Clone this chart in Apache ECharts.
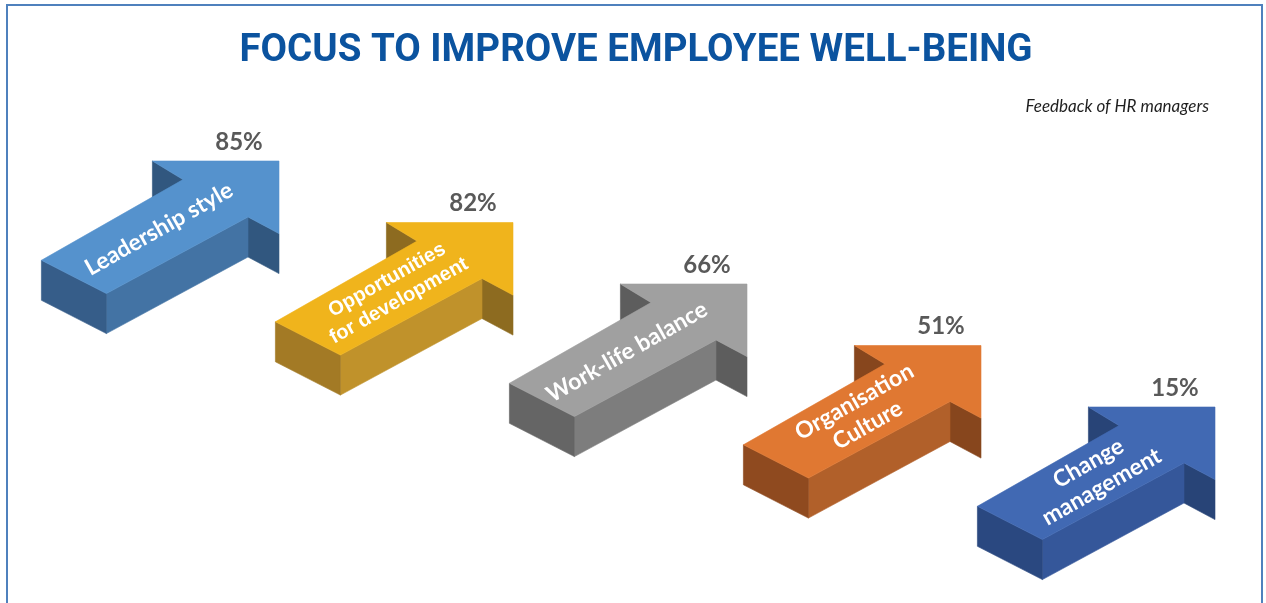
<!DOCTYPE html>
<html>
<head>
<meta charset="utf-8">
<script src="https://cdn.jsdelivr.net/npm/echarts@6/dist/echarts.min.js"></script>
<style>
  html, body { margin: 0; padding: 0; background: #ffffff; }
  #chart { width: 1266px; height: 603px; }
</style>
</head>
<body>
<div id="chart"></div>
<script>
// Focus areas and the share of HR managers naming each one
const categories = [
  'Leadership style',
  'Opportunities\nfor development',
  'Work-life balance',
  'Organisation\nCulture',
  'Change\nmanagement'
];
const values = [85, 82, 66, 51, 15];

const titleText = 'FOCUS TO IMPROVE EMPLOYEE WELL-BEING';
const subtitleText = 'Feedback of HR managers';

// Face colours of each extruded arrow: top, long side, tail end, barb back
const palette = [
  { top: '#5592cd', side: '#4373a4', end: '#365d89', back: '#31577f' },
  { top: '#f0b41c', side: '#c0922b', end: '#a37a25', back: '#8d6b20' },
  { top: '#a0a0a0', side: '#7d7d7d', end: '#656565', back: '#5d5d5d' },
  { top: '#e07832', side: '#b1602a', end: '#8f4a1f', back: '#87461d' },
  { top: '#4169b3', side: '#35579a', end: '#2a4880', back: '#284477' }
];
// Label typeface per arrow
const nameFonts = [
  { family: 'Lato', size: 23 },
  { family: '"Liberation Sans", Arial, sans-serif', size: 20 },
  { family: 'Lato', size: 23 },
  { family: 'Lato', size: 23 },
  { family: 'Lato', size: 23 }
];

// Outline of the arrow's top face, relative to its tip (pixels)
const SHAPE = [
  [-237.6, 99.3],   // tail, upper corner
  [-96, 18.6],      // upper notch
  [-126.6, 0],      // upper barb
  [0, 0],           // tip
  [0, 72.6],        // lower barb
  [-31, 56],        // lower notch
  [-172.6, 132.6]   // tail, lower corner
];
const DEPTH = 40;
const ANGLE = 29.5 * Math.PI / 180;
const NAME_OFFSET = [-120, 68];
const VALUE_OFFSET = [-40, -19];

function renderItem(params, api) {
  const i = params.dataIndex;
  const tip = api.coord([api.value(0), api.value(1)]);
  const c = palette[i];
  const f = nameFonts[i];
  const P = SHAPE.map(p => [tip[0] + p[0], tip[1] + p[1]]);
  const down = p => [p[0], p[1] + DEPTH];
  const [p1, p2, p3, , p5, p6, p7] = P;
  const poly = (pts, fill) => ({
    type: 'polygon',
    shape: { points: pts },
    style: { fill: fill, stroke: fill, lineWidth: 0.6 }
  });
  return {
    type: 'group',
    children: [
      poly([p3, p2, down(p2), down(p3)], c.back),
      poly([p6, p5, down(p5), down(p6)], c.back),
      poly([p7, p6, down(p6), down(p7)], c.side),
      poly([p1, p7, down(p7), down(p1)], c.end),
      poly(P, c.top),
      {
        type: 'text',
        x: tip[0] + NAME_OFFSET[0],
        y: tip[1] + NAME_OFFSET[1],
        rotation: ANGLE,
        style: {
          text: categories[i],
          fill: '#ffffff',
          fontFamily: f.family,
          fontWeight: 'bold',
          fontSize: f.size,
          lineHeight: Math.round(f.size * 1.18),
          align: 'center',
          verticalAlign: 'middle'
        }
      },
      {
        type: 'text',
        x: tip[0] + VALUE_OFFSET[0],
        y: tip[1] + VALUE_OFFSET[1],
        style: {
          text: api.value(2) + '%',
          fill: '#595959',
          fontFamily: 'Lato',
          fontWeight: 'bold',
          fontSize: 24,
          align: 'center',
          verticalAlign: 'middle'
        }
      }
    ]
  };
}

const chart = echarts.init(document.getElementById('chart'), null, { renderer: 'canvas' });
chart.setOption({
  animation: false,
  backgroundColor: '#ffffff',
  graphic: [
    {
      type: 'rect',
      shape: { x: 7, y: 5, width: 1255, height: 650 },
      style: { fill: 'none', stroke: '#4f81bd', lineWidth: 2 },
      silent: true
    },
    {
      type: 'text',
      x: 636, y: 51,
      style: {
        text: titleText,
        fill: '#0b539f',
        fontFamily: 'Roboto',
        fontWeight: 'bold',
        fontSize: 38.5,
        align: 'center',
        verticalAlign: 'middle'
      }
    },
    {
      type: 'text',
      x: 1209, y: 107,
      style: {
        text: subtitleText,
        fill: '#1f1f1f',
        fontFamily: 'Lato',
        fontStyle: 'italic',
        fontSize: 17,
        align: 'right',
        verticalAlign: 'middle'
      }
    }
  ],
  grid: { left: 279, right: 51, top: 161, bottom: 196 },
  xAxis: { type: 'category', data: categories, boundaryGap: false, show: false },
  yAxis: { type: 'category', data: categories, inverse: true, boundaryGap: false, show: false },
  series: [{
    type: 'custom',
    renderItem: renderItem,
    clip: false,
    encode: { x: 0, y: 1 },
    data: categories.map((c, i) => [i, i, values[i]])
  }]
});
</script>
</body>
</html>
